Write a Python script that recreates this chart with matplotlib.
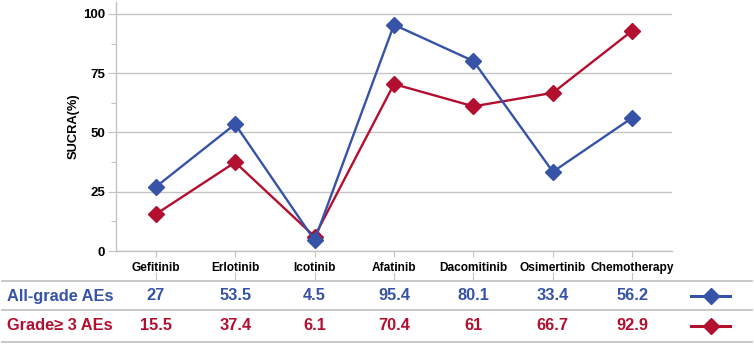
import matplotlib.pyplot as plt
import matplotlib.transforms as mtransforms
from matplotlib.lines import Line2D

plt.rcParams["font.family"] = ["Liberation Sans", "DejaVu Sans"]

drugs = ["Gefitinib", "Erlotinib", "Icotinib", "Afatinib", "Dacomitinib",
         "Osimertinib", "Chemotherapy"]
all_grade = [27, 53.5, 4.5, 95.4, 80.1, 33.4, 56.2]
grade3 = [15.5, 37.4, 6.1, 70.4, 61, 66.7, 92.9]
all_grade_txt = ["27", "53.5", "4.5", "95.4", "80.1", "33.4", "56.2"]
grade3_txt = ["15.5", "37.4", "6.1", "70.4", "61", "66.7", "92.9"]

BLUE = "#3653a8"
RED = "#b30f2f"
GRID = "#c4c4c4"

W, H = 754, 344
fig = plt.figure(figsize=(W / 100, H / 100), dpi=100)
ax = fig.add_axes([116 / W, 1 - 251 / H, (672 - 116) / W, (251 - 2) / H])

x = list(range(len(drugs)))
ax.plot(x, grade3, color=RED, lw=1.7, marker="D", ms=8.5, zorder=3)
ax.plot(x, all_grade, color=BLUE, lw=1.7, marker="D", ms=8.5, zorder=4)

ax.set_xlim(-0.5, len(drugs) - 0.5)
ax.set_ylim(0, 105)
ax.set_yticks([0, 25, 50, 75, 100])
ax.set_yticks([12.5, 37.5, 62.5, 87.5], minor=True)
ax.set_yticklabels(["0", "25", "50", "75", "100"], fontsize=9.5, fontweight="bold")
ax.set_xticks(x)
ax.set_xticklabels(drugs, fontsize=8.6, fontweight="bold")
ax.tick_params(axis="y", which="major", length=6, width=0.8, color=GRID, pad=2)
ax.tick_params(axis="y", which="minor", length=3.5, width=0.8, color=GRID)
ax.tick_params(axis="x", length=4.5, width=0.8, color=GRID, pad=3.5)
ax.grid(axis="y", which="major", color=GRID, lw=1.0)
ax.set_axisbelow(True)
for s in ["top", "right"]:
    ax.spines[s].set_visible(False)
for s in ["left", "bottom"]:
    ax.spines[s].set_color(GRID)
    ax.spines[s].set_linewidth(1.0)
ax.set_ylabel("SUCRA(%)", fontsize=9.3, fontweight="bold", labelpad=2.5)

# table below the axes: x in data coords, y in figure coords
trans = mtransforms.blended_transform_factory(ax.transData, fig.transFigure)


def fy(py):
    return 1 - py / H


for xi in x:
    fig.add_artist(Line2D([xi, xi], [fy(273), fy(281)], transform=trans,
                          color=GRID, lw=0.8))

for py in [281, 310, 341.5]:
    fig.add_artist(Line2D([2 / W, 752 / W], [fy(py), fy(py)],
                          transform=fig.transFigure, color=GRID, lw=1.3))

rows = [("All-grade AEs", all_grade_txt, BLUE, 296),
        ("Grade\u2265 3 AEs", grade3_txt, RED, 326)]
for label, vals, color, py in rows:
    fig.text(7 / W, fy(py), label, color=color, fontsize=11.8,
             fontweight="bold", ha="left", va="center")
    for xi, v in zip(x, vals):
        fig.text(xi, fy(py), v, transform=trans, color=color, fontsize=11.8,
                 fontweight="bold", ha="center", va="center")
    fig.add_artist(Line2D([691 / W, 730 / W], [fy(py), fy(py)],
                          transform=fig.transFigure, color=color, lw=2.2))
    fig.add_artist(Line2D([710.5 / W], [fy(py)], transform=fig.transFigure,
                          color=color, marker="D", ms=8, lw=0))

fig.savefig("out.png", dpi=100)
